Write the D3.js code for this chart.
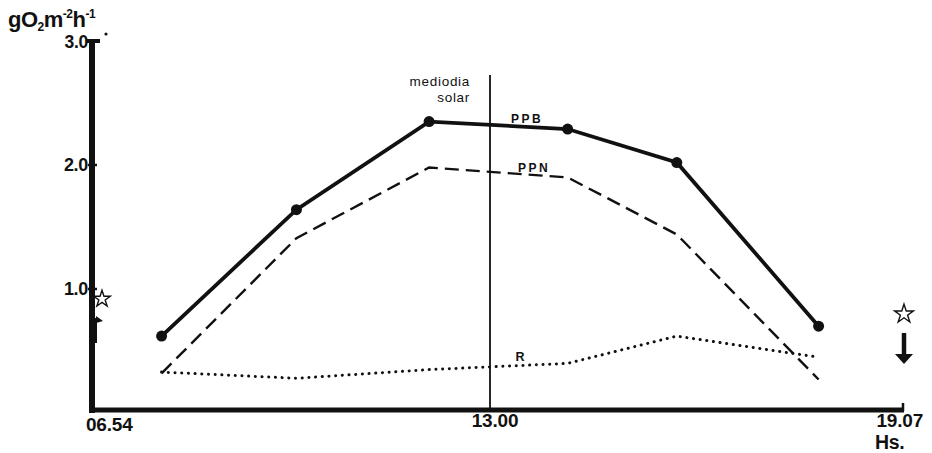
<!DOCTYPE html>
<html><head><meta charset="utf-8">
<script src="https://cdn.jsdelivr.net/npm/d3@7"></script>
<style>body{margin:0;background:#fff}svg{display:block}text{font-family:"Liberation Sans",Arial,sans-serif;fill:#111}</style>
</head><body>
<svg id="c" width="932" height="453"></svg>
<script>
const times = ["07:58","10:02","12:04","14:09","15:46","17:52"];
const ppb = [0.62, 1.64, 2.35, 2.29, 2.02, 0.70];
const ppn = [0.32, 1.41, 1.98, 1.90, 1.44, 0.27];
const r   = [0.33, 0.28, 0.35, 0.40, 0.62, 0.45];
const yTicks = [1.0, 2.0, 3.0];
const xTicks = ["06:54","13:00","19:07"];
const noon = "13:00";

const toMin = s => { const [h,m] = s.split(":").map(Number); return h*60+m; };
const fmtT = s => s.replace(":", ".");

const svg = d3.select("#c");
const x = d3.scaleLinear().domain([toMin("06:54"), toMin("13:00"), toMin("19:07")]).range([92, 490, 903]);
const y = d3.scaleLinear().domain([0, 3]).range([413, 41]);
const baseY = 410;

const line = d3.line().x(d => x(toMin(d[0]))).y(d => y(d[1]));
const mk = arr => times.map((t,i) => [t, arr[i]]);

// noon vertical line
svg.append("line").attr("x1", x(toMin(noon))).attr("x2", x(toMin(noon)))
  .attr("y1", 75).attr("y2", baseY).attr("stroke", "#111").attr("stroke-width", 1.8);
svg.append("text").attr("x", 470).attr("y", 86).attr("text-anchor","end").attr("font-size", 13.5).attr("letter-spacing", 0.7).text("mediodia");
svg.append("text").attr("x", 470).attr("y", 102).attr("text-anchor","end").attr("font-size", 13.5).attr("letter-spacing", 0.7).text("solar");

// series
svg.append("path").attr("d", line(mk(ppn))).attr("fill","none").attr("stroke","#111")
  .attr("stroke-width", 2.4).attr("stroke-dasharray","14,7");
svg.append("path").attr("d", line(mk(r))).attr("fill","none").attr("stroke","#111")
  .attr("stroke-width", 3).attr("stroke-dasharray","0.1,6.6").attr("stroke-linecap","round");
svg.append("path").attr("d", line(mk(ppb))).attr("fill","none").attr("stroke","#111").attr("stroke-width", 3.8);
svg.selectAll("circle.p").data(mk(ppb)).enter().append("circle")
  .attr("cx", d => x(toMin(d[0]))).attr("cy", d => y(d[1])).attr("r", 5.5).attr("fill","#111");

// series labels
svg.append("text").attr("x", 527).attr("y", 123).attr("text-anchor","middle").attr("font-size", 12).attr("font-weight","bold").attr("letter-spacing", 2.5).text("PPB");
svg.append("text").attr("x", 534).attr("y", 172).attr("text-anchor","middle").attr("font-size", 12).attr("font-weight","bold").attr("letter-spacing", 2.5).text("PPN");
svg.append("text").attr("x", 520).attr("y", 361).attr("text-anchor","middle").attr("font-size", 12.5).attr("font-weight","bold").text("R");

// axes
svg.append("line").attr("x1", 92).attr("x2", 92).attr("y1", 40).attr("y2", baseY+3).attr("stroke","#111").attr("stroke-width", 6);
svg.append("line").attr("x1", 89).attr("x2", 904).attr("y1", baseY).attr("y2", baseY).attr("stroke","#111").attr("stroke-width", 5);
svg.append("line").attr("x1", 903).attr("x2", 903).attr("y1", baseY-7).attr("y2", baseY+1).attr("stroke","#111").attr("stroke-width", 2.5);

yTicks.forEach(v => {
  svg.append("line").attr("x1", v===3 ? 86 : 88).attr("x2", v===3 ? 100 : 97).attr("y1", y(v)).attr("y2", y(v)).attr("stroke","#111").attr("stroke-width", v===3 ? 4 : 2.5);
  svg.append("text").attr("x", 88).attr("y", y(v) + (v===3 ? 7 : 6)).attr("text-anchor","end").attr("font-size", v===3 ? 17.5 : 18).attr("font-weight","bold").attr("letter-spacing", -0.3).text(v.toFixed(1));
});
xTicks.forEach((t,i) => {
  const anchor = i===0 ? "start" : (i===2 ? "end" : "middle");
  const xx = x(toMin(t)) + (i===0 ? -6 : (i===2 ? 20 : 5));
  const yy = i===0 ? 431 : (i===2 ? 427 : 427);
  svg.append("text").attr("x", xx).attr("y", yy).attr("text-anchor", anchor).attr("font-size", 19).attr("font-weight","bold").attr("letter-spacing", -0.2).text(fmtT(t));
});
svg.append("text").attr("x", 875).attr("y", 449).attr("font-size", 19.5).attr("font-weight","bold").attr("letter-spacing", -0.3).text("Hs.");

// y label
const yl = svg.append("text").attr("x", 8).attr("y", 27).attr("font-size", 22).attr("font-weight","bold").attr("letter-spacing", -0.5);
yl.append("tspan").text("gO");
yl.append("tspan").attr("font-size", 12).attr("dy", 4).text("2");
yl.append("tspan").attr("dy", -4).text("m");
yl.append("tspan").attr("font-size", 12).attr("dy", -9).text("-2");
yl.append("tspan").attr("dy", 9).text("h");
yl.append("tspan").attr("font-size", 12).attr("dy", -9).text("-1");
svg.append("circle").attr("cx", 106).attr("cy", 34).attr("r", 1.6).attr("fill","#111");

// stars and arrow markers
svg.append("path").attr("d", d3.symbol().type(d3.symbolStar).size(85)()).attr("transform","translate(102,299)").attr("fill","#fff").attr("stroke","#111").attr("stroke-width",1.4);
svg.append("path").attr("d", d3.symbol().type(d3.symbolStar).size(110)()).attr("transform","translate(904,314)").attr("fill","#fff").attr("stroke","#111").attr("stroke-width",1.4);
svg.append("line").attr("x1", 904).attr("x2", 904).attr("y1", 333).attr("y2", 356).attr("stroke","#111").attr("stroke-width", 4.5);
svg.append("path").attr("d","M895,354 L913,354 L904,364 Z").attr("fill","#111");
svg.append("rect").attr("x", 91).attr("y", 318).attr("width", 6).attr("height", 25).attr("fill","#111");
svg.append("path").attr("d","M96,316 L103,321 L96,323 Z").attr("fill","#111");
</script>
</body></html>
